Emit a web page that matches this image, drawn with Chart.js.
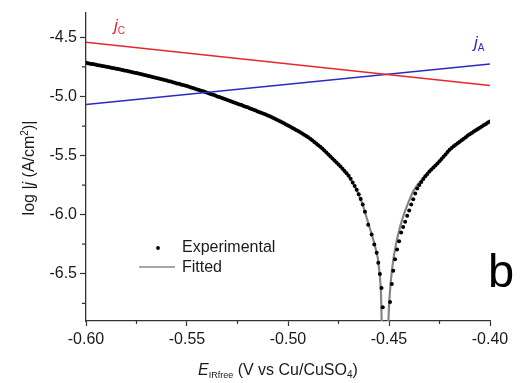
<!DOCTYPE html>
<html>
<head>
<meta charset="utf-8">
<script src="https://cdn.jsdelivr.net/npm/chart.js@4.4.1/dist/chart.umd.min.js"></script>
<style>
html,body{margin:0;padding:0;background:#fff;}
#wrap{position:relative;width:530px;height:383px;}
</style>
</head>
<body>
<div id="wrap"><canvas id="c" width="530" height="383"></canvas></div>
<script>
// ---- Data ----
// Experimental points: potential E_IRfree (V vs Cu/CuSO4)
const expE = [
-0.600,-0.599,-0.598,-0.597,-0.596,-0.595,-0.594,-0.593,-0.592,-0.591,
-0.590,-0.589,-0.588,-0.587,-0.586,-0.585,-0.584,-0.583,-0.582,-0.581,
-0.580,-0.579,-0.578,-0.577,-0.576,-0.575,-0.574,-0.573,-0.572,-0.571,
-0.570,-0.569,-0.568,-0.567,-0.566,-0.565,-0.564,-0.563,-0.562,-0.561,
-0.560,-0.559,-0.558,-0.557,-0.556,-0.555,-0.554,-0.553,-0.552,-0.551,
-0.550,-0.549,-0.548,-0.547,-0.546,-0.545,-0.544,-0.543,-0.542,-0.541,
-0.540,-0.539,-0.538,-0.537,-0.536,-0.535,-0.534,-0.533,-0.532,-0.531,
-0.530,-0.529,-0.528,-0.527,-0.526,-0.525,-0.524,-0.523,-0.522,-0.521,
-0.520,-0.519,-0.518,-0.517,-0.516,-0.515,-0.514,-0.513,-0.512,-0.511,
-0.510,-0.509,-0.508,-0.507,-0.506,-0.505,-0.504,-0.503,-0.502,-0.501,
-0.500,-0.499,-0.498,-0.497,-0.496,-0.495,-0.494,-0.493,-0.492,-0.491,
-0.490,-0.489,-0.488,-0.487,-0.486,-0.485,-0.484,-0.483,-0.482,-0.481,
-0.480,-0.479,-0.478,-0.477,-0.476,-0.475,-0.474,-0.473,-0.472,-0.471,
-0.470,-0.469,-0.468,-0.467,-0.466,-0.465,-0.464,-0.463,
-0.4619,-0.4603,-0.4586,-0.4573,-0.4561,-0.4553,-0.4545,-0.4537,-0.4531,
-0.4495,-0.4486,-0.4479,-0.4470,-0.4460,-0.4450,-0.4440,
-0.443,-0.442,-0.441,-0.440,-0.439,-0.438,-0.437,-0.436,-0.435,-0.434,
-0.433,-0.432,-0.431,-0.430,-0.429,-0.428,-0.427,-0.426,-0.425,-0.424,
-0.423,-0.422,-0.421,-0.420,-0.419,-0.418,-0.417,-0.416,-0.415,-0.414,
-0.413,-0.412,-0.411,-0.410,-0.409,-0.408,-0.407,-0.406,-0.405,-0.404,
-0.403,-0.402,-0.401,-0.400
];
// Experimental log|j| (A/cm2)
const expLogJ = [
-4.715,-4.718,-4.722,-4.725,-4.728,-4.731,-4.735,-4.738,-4.741,-4.745,
-4.748,-4.751,-4.755,-4.758,-4.761,-4.765,-4.768,-4.772,-4.775,-4.779,
-4.782,-4.786,-4.790,-4.794,-4.798,-4.802,-4.806,-4.810,-4.814,-4.818,
-4.822,-4.826,-4.830,-4.835,-4.839,-4.843,-4.848,-4.852,-4.856,-4.861,
-4.865,-4.870,-4.874,-4.879,-4.884,-4.889,-4.893,-4.898,-4.903,-4.907,
-4.912,-4.917,-4.923,-4.928,-4.934,-4.940,-4.945,-4.951,-4.956,-4.962,
-4.968,-4.974,-4.980,-4.986,-4.992,-4.999,-5.005,-5.011,-5.017,-5.024,
-5.030,-5.036,-5.042,-5.048,-5.055,-5.061,-5.067,-5.073,-5.080,-5.086,
-5.092,-5.099,-5.105,-5.112,-5.119,-5.126,-5.133,-5.140,-5.146,-5.153,
-5.160,-5.168,-5.176,-5.185,-5.193,-5.202,-5.210,-5.219,-5.227,-5.236,
-5.245,-5.254,-5.264,-5.273,-5.283,-5.293,-5.303,-5.314,-5.324,-5.335,
-5.345,-5.358,-5.371,-5.385,-5.398,-5.412,-5.426,-5.441,-5.456,-5.473,
-5.490,-5.507,-5.524,-5.541,-5.558,-5.575,-5.593,-5.612,-5.631,-5.650,
-5.670,-5.697,-5.727,-5.758,-5.790,-5.828,-5.868,-5.915,
-5.975,-6.086,-6.169,-6.253,-6.322,-6.406,-6.503,-6.621,-6.783,
-6.739,-6.586,-6.475,-6.378,-6.294,-6.225,-6.150,
-6.105,-6.060,-6.010,-5.965,-5.915,-5.870,-5.822,-5.778,-5.750,-5.723,
-5.698,-5.676,-5.655,-5.635,-5.617,-5.600,-5.584,-5.567,-5.548,-5.529,
-5.510,-5.490,-5.470,-5.450,-5.436,-5.422,-5.409,-5.396,-5.383,-5.370,
-5.357,-5.344,-5.331,-5.319,-5.308,-5.297,-5.286,-5.275,-5.264,-5.253,
-5.242,-5.232,-5.221,-5.211
];
// Fitted curve (grey line)
const fitE = [
-0.600,-0.590,-0.580,-0.570,-0.560,-0.550,-0.540,-0.530,-0.520,-0.510,
-0.500,-0.490,-0.480,-0.475,-0.470,-0.466,-0.463,-0.461,-0.459,-0.457,
-0.4555,-0.4545,-0.4540,-0.4537,-0.4534,
null,
-0.4506,-0.4503,-0.4499,-0.4492,-0.4484,-0.4475,-0.4462,-0.4445,-0.4425,-0.4405,
-0.438,-0.436,-0.433,-0.430,-0.426,-0.420,-0.415,-0.410,-0.405,-0.400
];
const fitLogJ = [
-4.715,-4.748,-4.782,-4.822,-4.865,-4.912,-4.968,-5.030,-5.092,-5.160,
-5.245,-5.345,-5.490,-5.575,-5.670,-5.790,-5.915,-6.030,-6.140,-6.260,
-6.370,-6.520,-6.650,-6.850,-7.100,
null,
-7.100,-6.900,-6.740,-6.580,-6.450,-6.340,-6.220,-6.100,-5.990,-5.900,
-5.800,-5.750,-5.690,-5.630,-5.565,-5.445,-5.380,-5.315,-5.260,-5.205
];
// Tafel lines
const tafelE = [-0.600, -0.400];
const jcLog = [-4.540, -4.908];
const jaLog = [-5.067, -4.725];
// Axis ticks
const xTicks = [-0.60, -0.55, -0.50, -0.45, -0.40];
const xMinor = [-0.575, -0.525, -0.475, -0.425];
const yTicks = [-6.5, -6.0, -5.5, -5.0, -4.5];
const yMinor = [-6.75, -6.25, -5.75, -5.25, -4.75];

const FONT = '"Liberation Sans", Arial, Helvetica, sans-serif';
const TXT = '#1a1a1a';
const pts = (xs, ys) => xs.map((x, i) => (x === null ? {x: NaN, y: NaN} : {x: x, y: ys[i]}));

function drawRich(ctx, segs, x, y, align) {
  let total = 0;
  segs.forEach(s => { ctx.font = s.f; total += ctx.measureText(s.t).width; });
  let cx = align === 'center' ? x - total / 2 : x;
  ctx.textBaseline = 'alphabetic';
  ctx.textAlign = 'left';
  segs.forEach(s => {
    ctx.font = s.f;
    ctx.fillStyle = s.c || TXT;
    ctx.fillText(s.t, cx, y + (s.dy || 0));
    cx += ctx.measureText(s.t).width;
  });
}

const overlay = {
  id: 'overlay',
  afterDraw(chart) {
    const ctx = chart.ctx, xs = chart.scales.x, ys = chart.scales.y, a = chart.chartArea;
    ctx.save();
    // minor ticks
    ctx.strokeStyle = '#333';
    ctx.lineWidth = 1.2;
    ctx.beginPath();
    xMinor.forEach(v => { const p = xs.getPixelForValue(v); ctx.moveTo(p, a.bottom); ctx.lineTo(p, a.bottom + 3); });
    yMinor.forEach(v => { const p = ys.getPixelForValue(v); ctx.moveTo(a.left, p); ctx.lineTo(a.left - 4, p); });
    ctx.stroke();

    // series labels
    drawRich(ctx, [{t: 'j', f: 'italic 17px ' + FONT, c: '#e5262d'}, {t: 'C', f: '10px ' + FONT, c: '#e5262d', dy: 3}], 114, 31, 'left');
    drawRich(ctx, [{t: 'j', f: 'italic 17px ' + FONT, c: '#2a2ac0'}, {t: 'A', f: '10px ' + FONT, c: '#2a2ac0', dy: 3}], 474, 48, 'left');

    // panel letter
    ctx.font = '47px ' + FONT;
    ctx.fillStyle = '#000';
    ctx.textAlign = 'left';
    ctx.fillText('b', 488, 287);

    // legend
    ctx.fillStyle = '#000';
    ctx.beginPath(); ctx.arc(158, 248, 1.9, 0, Math.PI * 2); ctx.fill();
    ctx.strokeStyle = '#888'; ctx.lineWidth = 1.5;
    ctx.beginPath(); ctx.moveTo(139, 267); ctx.lineTo(175, 267); ctx.stroke();
    ctx.font = '16px ' + FONT; ctx.fillStyle = TXT; ctx.textBaseline = 'middle';
    ctx.fillText('Experimental', 182, 248);
    ctx.fillText('Fitted', 182, 268);

    // x axis title
    drawRich(ctx, [
      {t: 'E', f: 'italic 16px ' + FONT},
      {t: 'IRfree', f: '9px ' + FONT, dy: 3},
      {t: ' (V vs Cu/CuSO', f: '16px ' + FONT},
      {t: '4', f: '10px ' + FONT, dy: 3},
      {t: ')', f: '16px ' + FONT}
    ], 198, 375, 'left');

    // y axis title
    ctx.translate(34, 168);
    ctx.rotate(-Math.PI / 2);
    drawRich(ctx, [
      {t: 'log |', f: '16px ' + FONT},
      {t: 'j', f: 'italic 16px ' + FONT},
      {t: ' (A/cm', f: '16px ' + FONT},
      {t: '2', f: '10px ' + FONT, dy: -6},
      {t: ')|', f: '16px ' + FONT}
    ], 0, 0, 'center');
    ctx.restore();
  }
};

new Chart(document.getElementById('c'), {
  type: 'scatter',
  data: {
    datasets: [
      {label: 'jC', data: pts(tafelE, jcLog), showLine: true, borderColor: '#e5262d', borderWidth: 1.5, pointRadius: 0, order: 0},
      {label: 'jA', data: pts(tafelE, jaLog), showLine: true, borderColor: '#2a2ac0', borderWidth: 1.5, pointRadius: 0, order: 0},
      {label: 'Experimental', data: pts(expE, expLogJ), showLine: false, pointRadius: 2.0, pointBackgroundColor: '#000', pointBorderWidth: 0, borderColor: '#000', order: 1},
      {label: 'Fitted', data: pts(fitE, fitLogJ), showLine: true, spanGaps: false, borderColor: '#858585', borderWidth: 2.2, pointRadius: 0, tension: 0, order: 2, clip: 0}
    ]
  },
  options: {
    responsive: false,
    animation: false,
    events: [],
    layout: {padding: {left: 0, right: 40, top: 8, bottom: 0}},
    plugins: {legend: {display: false}, tooltip: {enabled: false}},
    scales: {
      x: {
        type: 'linear', min: -0.6, max: -0.4,
        afterBuildTicks: s => { s.ticks = xTicks.map(v => ({value: v})); },
        afterFit: s => { s.height = 62; },
        border: {color: '#333', width: 1.3},
        grid: {drawOnChartArea: false, drawTicks: true, tickLength: 5, color: '#333', tickWidth: 1.2},
        ticks: {font: {family: FONT, size: 16}, color: TXT, padding: 4, maxRotation: 0, callback: v => v.toFixed(2)}
      },
      y: {
        type: 'linear', min: -6.9, max: -4.29,
        afterBuildTicks: s => { s.ticks = yTicks.map(v => ({value: v})); },
        afterFit: s => { s.width = 86; },
        border: {color: '#333', width: 1.3},
        grid: {drawOnChartArea: false, drawTicks: true, tickLength: 6, color: '#333', tickWidth: 1.2},
        ticks: {font: {family: FONT, size: 16}, color: TXT, padding: 3, callback: v => v.toFixed(1)}
      }
    }
  },
  plugins: [overlay]
});
</script>
</body>
</html>
